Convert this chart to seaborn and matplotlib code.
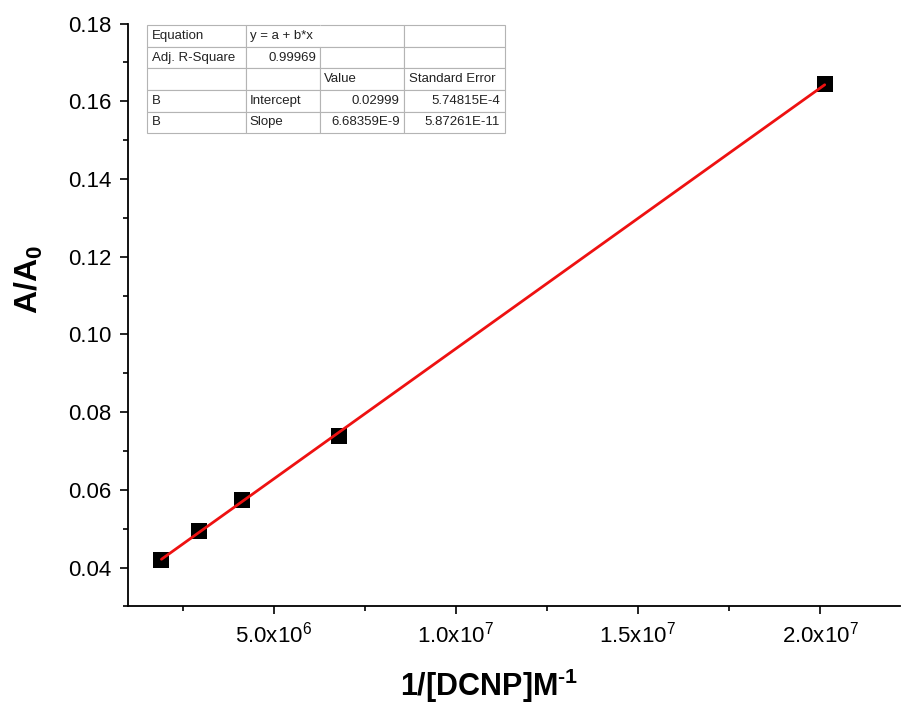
import numpy as np
import pandas as pd
import matplotlib
matplotlib.use("Agg")
import matplotlib.pyplot as plt
from matplotlib.ticker import MultipleLocator, FuncFormatter
import seaborn as sns

# data
inv_conc = [1.92e6, 2.96e6, 4.12e6, 6.79e6, 2.013e7]
ratio = [0.0420, 0.0495, 0.0574, 0.0739, 0.1644]

# fit summary table (as printed in the original)
table_rows = [
    ["Equation", "y = a + b*x", "", ""],
    ["Adj. R-Square", "0.99969", "", ""],
    ["", "", "Value", "Standard Error"],
    ["B", "Intercept", "0.02999", "5.74815E-4"],
    ["B", "Slope", "6.68359E-9", "5.87261E-11"],
]
table_align = [
    ["left", "left", "left", "left"],
    ["left", "right", "left", "left"],
    ["left", "left", "left", "left"],
    ["left", "left", "right", "right"],
    ["left", "left", "right", "right"],
]

df = pd.DataFrame({"x": inv_conc, "y": ratio})

sns.set_style("ticks")
plt.rcParams["font.family"] = ["Liberation Sans", "DejaVu Sans"]
plt.rcParams["mathtext.fontset"] = "custom"
plt.rcParams["mathtext.rm"] = "Liberation Sans"
plt.rcParams["mathtext.bf"] = "Liberation Sans:bold"
plt.rcParams["mathtext.it"] = "Liberation Sans:italic"
plt.rcParams["axes.unicode_minus"] = False
plt.rcParams["text.color"] = "black"
plt.rcParams["axes.labelcolor"] = "black"
plt.rcParams["xtick.color"] = "black"
plt.rcParams["ytick.color"] = "black"
plt.rcParams["axes.edgecolor"] = "black"

fig = plt.figure(figsize=(9.01, 7.13), dpi=100)
ax = fig.add_axes([0.142, 0.1494, 0.857, 0.8176])

sns.regplot(data=df, x="x", y="y", ax=ax, ci=None, marker="s",
            scatter_kws={"color": "black", "s": 120, "linewidths": 0, "alpha": 1},
            line_kws={"color": "#ee1111", "lw": 2.0})

ax.set_xlim(1.0e6, 2.22e7)
ax.set_ylim(0.03, 0.18)
ax.xaxis.set_major_locator(MultipleLocator(5e6))
ax.xaxis.set_minor_locator(MultipleLocator(2.5e6))
ax.yaxis.set_major_locator(MultipleLocator(0.02))
ax.yaxis.set_minor_locator(MultipleLocator(0.01))


def sci_fmt(v, pos):
    if v == 0:
        return "0"
    exp = int(np.floor(np.log10(v)))
    return "%.1fx10$^{%d}$" % (v / 10 ** exp, exp)


ax.xaxis.set_major_formatter(FuncFormatter(sci_fmt))
ax.yaxis.set_major_formatter(FuncFormatter(lambda v, p: "%.2f" % v))

sns.despine(ax=ax)
for s in ["left", "bottom"]:
    ax.spines[s].set_linewidth(1.3)
ax.tick_params(which="major", direction="out", length=6, width=1.2, labelsize=16, pad=5)
ax.tick_params(which="minor", direction="out", length=3.5, width=1.2)
ax.tick_params(axis="y", pad=6)

ax.set_xlabel("1/[DCNP]M$^{\\mathbf{\u2010 1}}$", fontsize=22, fontweight="bold")
ax.set_ylabel("A/A$_{\\mathbf{0}}$", fontsize=23, fontweight="bold")
ax.xaxis.set_label_coords(0.4676, -0.104)
ax.yaxis.set_label_coords(-0.108, 0.56)

# fit summary box
tab = ax.table(cellText=table_rows, colWidths=[99, 74, 84, 101],
               bbox=[0.0246, 0.812, 0.4637, 0.1852], zorder=5)
tab.auto_set_font_size(False)
tab.set_fontsize(9.5)
for (r, c), cell in tab.get_celld().items():
    cell.set_edgecolor("#b4b4b4")
    cell.set_linewidth(0.8)
    cell.set_facecolor("white")
    cell.PAD = 0.05
    cell._loc = table_align[r][c]
    cell.get_text().set_ha(table_align[r][c])
    cell.get_text().set_color("#222222")
tab[0, 1].visible_edges = "BTL"
tab[0, 2].visible_edges = "BTR"

fig.savefig("out.png", dpi=100)
